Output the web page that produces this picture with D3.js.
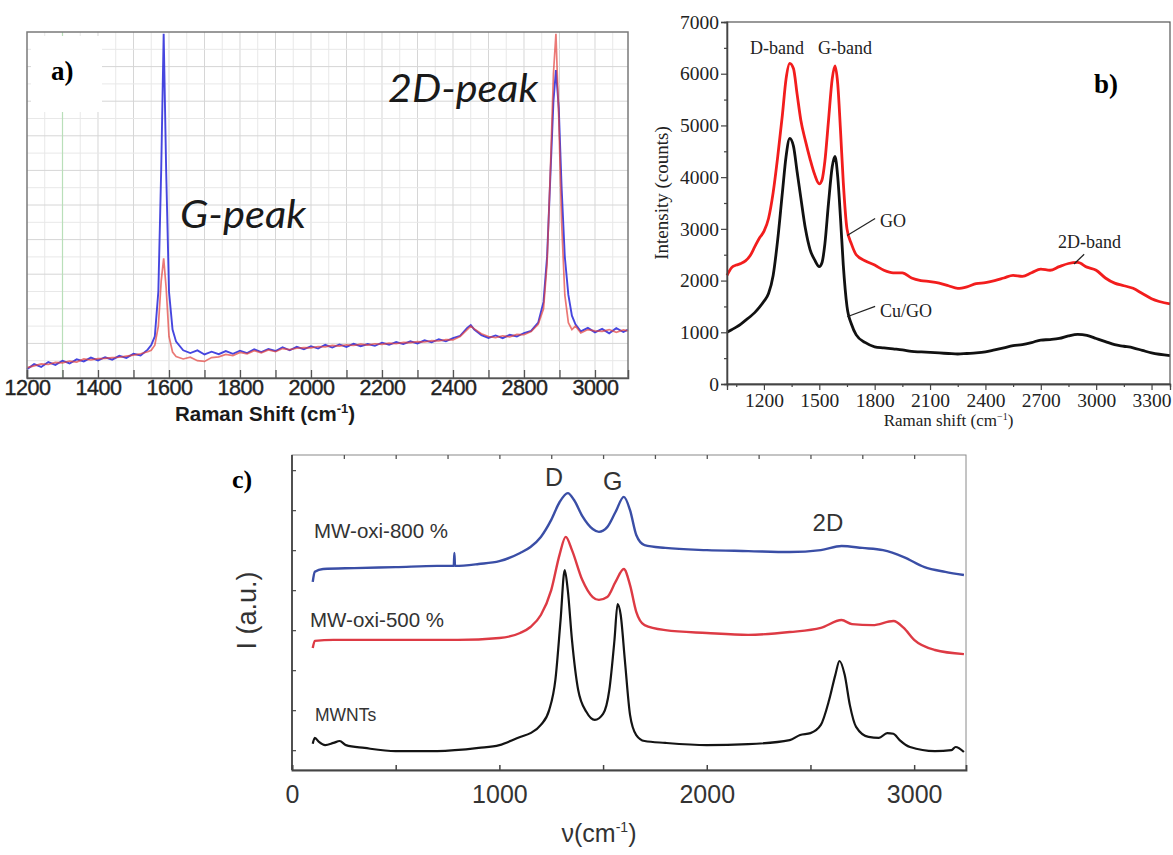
<!DOCTYPE html>
<html>
<head>
<meta charset="utf-8">
<script src="https://cdn.jsdelivr.net/npm/d3@7"></script>
<style>
  body { margin: 0; background: #fff; }
  svg { display: block; }
</style>
</head>
<body>
<script>
// ---------- panel a) graphene, two overlaid spectra (arbitrary units 0-100)
const aShift = [1200,1220,1240,1260,1280,1300,1320,1340,1360,1380,1400,1420,1440,1460,1480,1500,1520,1540,1550,1560,
  1570,1578,1585,1592,1600,1610,1620,1640,1660,1680,1700,1720,1740,1760,1780,1800,1820,1840,1860,1880,
  1900,1920,1940,1960,1980,2000,2020,2040,2060,2080,2100,2120,2140,2160,2180,2200,2220,2240,2260,2280,
  2300,2320,2340,2360,2380,2400,2420,2440,2450,2460,2480,2500,2520,2540,2560,2580,2600,2620,2640,2655,
  2665,2675,2683,2690,2698,2706,2715,2725,2735,2745,2760,2780,2800,2820,2840,2860,2880,2893];
const aBlue = [2.5,4.0,3.2,4.6,3.8,5.0,4.2,5.4,4.8,5.9,5.1,6.0,5.3,6.4,5.8,7.0,6.5,8.2,9.5,12,
  25,60,99.5,60,25,14,10.5,8.0,7.2,8.0,6.8,7.6,6.9,7.8,7.0,7.9,7.2,8.3,7.5,8.4,
  7.8,8.9,8.0,9.0,8.3,9.2,8.5,9.6,8.8,9.7,9.0,9.9,9.2,9.8,9.3,10.2,9.6,10.4,9.8,10.6,
  10.0,10.9,10.3,11.2,10.6,11.5,12.2,14.5,15.3,14.0,12.4,11.6,12.3,11.5,12.5,12.0,13.0,13.6,16.0,22,
  35,60,80,89,78,55,35,24,18,15.5,13.5,14.5,13.2,14.2,12.9,14.4,13.3,14.0];
const aRed = [3.0,3.5,4.1,3.9,4.5,4.4,4.9,4.6,5.5,5.2,5.6,5.7,5.9,6.0,6.3,6.6,7.0,7.6,8.0,9.5,
  15,28,34.6,26,12,7.5,6.2,5.5,6.0,5.0,4.8,5.9,6.1,6.8,6.5,7.4,7.0,7.9,7.3,8.1,
  7.6,8.5,8.2,8.6,8.8,8.7,9.1,9.0,9.4,9.2,9.6,9.4,9.8,9.5,9.9,9.7,10.1,9.9,10.3,10.2,
  10.5,10.4,10.8,10.7,11.1,11.0,12.0,14.0,15.0,14.2,12.8,12.0,11.7,12.2,11.9,12.6,12.5,13.4,15.5,20,
  33,62,88,99.5,75,45,24,16,14,15,13,14.0,13.6,13.5,14.0,13.2,13.9,13.6];
const aTickValues = [1200,1400,1600,1800,2000,2200,2400,2600,2800];
const aTickLabels = ["1200","1400","1600","1800","2000","2200","2400","2800","3000"];

// ---------- panel b) GO and Cu/GO (counts)
const bShift = [1000,1025,1050,1075,1100,1125,1150,1175,1200,1225,1250,1275,1300,1320,1340,1360,1380,1400,1425,1450,
  1475,1500,1515,1530,1550,1570,1585,1600,1615,1630,1650,1675,1700,1750,1800,1850,1900,1950,2000,2050,
  2100,2150,2200,2250,2300,2350,2400,2450,2500,2550,2600,2650,2700,2750,2800,2850,2900,2950,3000,3050,
  3100,3150,3200,3250,3300,3400];
const bGO = [2100,2250,2300,2330,2380,2480,2650,2820,2950,3200,3700,4400,5200,5900,6200,6100,5600,5100,4700,4350,
  4050,3870,3950,4300,5100,5900,6150,5800,4900,3900,3000,2700,2500,2380,2300,2200,2150,2150,2050,2000,
  1980,1950,1900,1850,1880,1940,1960,2000,2050,2100,2080,2150,2220,2200,2270,2330,2350,2260,2200,2050,
  1950,1900,1850,1750,1650,1550];
const bCuGO = [1000,1050,1100,1160,1230,1300,1380,1480,1600,1750,2100,2800,3700,4400,4750,4600,4100,3600,3000,2600,
  2400,2270,2350,2700,3500,4200,4400,4000,3200,2300,1500,1150,950,800,720,700,680,660,630,620,
  610,600,590,580,590,600,620,660,700,740,760,800,850,860,880,930,960,940,880,820,
  760,730,700,650,600,550];
const bXTicks = [1200,1500,1800,2100,2400,2700,3000,3300];
const bYTicks = [0,1000,2000,3000,4000,5000,6000,7000];

// ---------- panel c) MWNTs and oxidised samples (stacked, a.u.)
const c800Shift = [100,110,150,300,500,700,780,783,786,900,1000,1100,1150,1200,1250,1290,1330,1360,1400,
  1450,1480,1520,1560,1600,1630,1660,1700,1800,2000,2200,2400,2550,2650,2750,2850,2950,3050,3150,3240];
const c800 = [59.7,62.9,63.8,64.1,64.4,64.8,64.8,68.9,64.8,65.4,66.3,68.9,70.8,74,79.4,85,87.9,85.7,80.6,
  76.5,75.6,77.1,81.9,86.7,82.5,74.6,71.4,70.5,69.8,69.5,69.2,69.8,71.1,70.5,69.8,67.6,64.4,62.9,61.9];
const c500Shift = [100,110,200,500,800,1000,1100,1150,1200,1250,1290,1320,1350,1400,1450,1480,1520,1560,1600,1630,
  1660,1700,1800,2000,2200,2400,2550,2650,2700,2800,2900,2950,3000,3100,3240];
const c500 = [38.7,41,41.3,41.3,41.3,41.9,43.5,45.4,49.2,57.1,68.3,74,69.8,60.3,54.9,54,54.9,59.7,63.8,58.7,
  50.2,46,44.4,43.5,42.9,43.8,45.1,47.6,46.3,46,47.3,45.1,41.3,38.1,36.8];
const cMwShift = [100,110,130,160,200,230,260,350,500,700,900,1000,1100,1150,1200,1240,1270,1295,1315,1330,
  1350,1380,1420,1460,1500,1530,1555,1570,1585,1605,1630,1660,1700,1800,2000,2200,2400,2450,2500,2550,
  2590,2620,2640,2665,2690,2720,2780,2830,2870,2900,2930,2980,3100,3180,3200,3240];
const cMw = [8.3,10.2,8.9,7.9,8.6,9.2,7.9,7,6,6,7,7.9,10.5,11.7,14.3,19,28.6,47.6,63.5,57,
  41.3,25.4,18.4,15.9,17.8,25.4,41.3,52.7,49.2,34.9,17.5,11.1,9.2,8.6,7.9,8.2,9.5,11.1,11.7,14.3,
  22.2,30.2,34.6,30.2,20.6,13.7,10.5,10.2,11.7,11.5,9.5,7.3,6,6.3,7.3,5.7];
const cXTicks = [0,1000,2000,3000];
const cYTicks = [6.3,19,31.7,44.4,57.1,69.8,82.5,95.2];

const svg = d3.select("body").append("svg").attr("width", 1173).attr("height", 855);

const zip = (xs, ys) => xs.map((x, i) => [x, ys[i]]);

// ================= panel a =================
{
  const W = 601, H = 346;
  const g = svg.append("g").attr("transform", "translate(27,32)");
  const x = d3.scaleLinear().domain([1200, 2893]).range([0, W]);
  const y = d3.scaleLinear().domain([0, 100]).range([H, 0]);

  // grid
  g.append("g").selectAll("line").data(d3.range(1250, 2893, 50)).join("line")
    .attr("x1", d => x(d)).attr("x2", d => x(d)).attr("y1", 0).attr("y2", H)
    .attr("stroke", d => d % 100 === 0 ? "#d6d6d6" : "#e8e8e8");
  g.append("g").selectAll("line").data(d3.range(5, 100, 5)).join("line")
    .attr("y1", d => y(d)).attr("y2", d => y(d)).attr("x1", 0).attr("x2", W)
    .attr("stroke", d => d % 10 === 0 ? "#d6d6d6" : "#e8e8e8");
  g.append("line").attr("x1", x(1300)).attr("x2", x(1300)).attr("y1", 0).attr("y2", H)
    .attr("stroke", "#b9dfb9").attr("stroke-width", 1.2);

  const line = d3.line().x(d => x(d[0])).y(d => y(d[1]));
  g.append("path").datum(zip(aShift, aBlue)).attr("d", line)
    .attr("fill", "none").attr("stroke", "#2626d9").attr("stroke-width", 1.9).attr("opacity", 0.85);
  g.append("path").datum(zip(aShift, aRed)).attr("d", line)
    .attr("fill", "none").attr("stroke", "#e2403c").attr("stroke-width", 1.7).attr("opacity", 0.7);

  // frame
  g.append("rect").attr("width", W).attr("height", H)
    .attr("fill", "none").attr("stroke", "#7a7a7a").attr("stroke-width", 1.5);

  // ticks inward, labels below
  g.append("g").attr("transform", `translate(0,${H})`)
    .call(d3.axisBottom(x).tickValues(d3.range(1300, 2893, 200)).tickSize(-8).tickFormat(""))
    .call(a => a.select(".domain").remove())
    .call(a => a.selectAll("line").attr("stroke", "#555").attr("stroke-width", 1.3));
  g.append("g").attr("transform", `translate(0,${H})`)
    .call(d3.axisBottom(x).tickValues(aTickValues).tickSize(-8).tickPadding(2)
      .tickFormat((d, i) => aTickLabels[i]))
    .call(a => a.select(".domain").attr("stroke", "#555").attr("stroke-width", 1.5))
    .call(a => a.selectAll("line").attr("stroke", "#555").attr("stroke-width", 1.3))
    .call(a => a.selectAll("text").attr("font-family", "'Liberation Sans', Arial, sans-serif")
      .attr("font-size", 21.5).attr("fill", "#222").attr("stroke", "#222").attr("stroke-width", 0.4)
      .attr("letter-spacing", -0.5));

  const t = g.append("text").attr("x", 238).attr("y", 389)
    .attr("text-anchor", "middle").attr("font-family", "'Liberation Sans', Arial, sans-serif")
    .attr("font-weight", "bold").attr("font-size", 20.5).attr("fill", "#1a1a1a");
  t.append("tspan").text("Raman Shift (cm");
  t.append("tspan").attr("dy", -8).attr("font-size", 13).text("-1");
  t.append("tspan").attr("dy", 8).text(")");

  // white label box
  g.append("rect").attr("x", 4).attr("y", 4).attr("width", 71).attr("height", 76).attr("fill", "#fff");
  g.append("text").attr("x", 24).attr("y", 48)
    .attr("font-family", "'Liberation Serif', 'Times New Roman', serif")
    .attr("font-weight", "bold").attr("font-size", 27).text("a)");

  g.append("text").attr("x", 153).attr("y", 196)
    .attr("font-family", "Lato, 'Open Sans', sans-serif").attr("font-style", "italic")
    .attr("font-size", 38).attr("fill", "#1a1a1a")
    .attr("textLength", 126).attr("lengthAdjust", "spacingAndGlyphs").text("G-peak");
  g.append("text").attr("x", 361).attr("y", 70)
    .attr("font-family", "Lato, 'Open Sans', sans-serif").attr("font-style", "italic")
    .attr("font-size", 38).attr("fill", "#1a1a1a")
    .attr("textLength", 150).attr("lengthAdjust", "spacingAndGlyphs").text("2D-peak");
}

// ================= panel b =================
{
  const W = 443, H = 362;
  const serif = "'Liberation Serif', 'Times New Roman', serif";
  const g = svg.append("g").attr("transform", "translate(727,22)");
  const x = d3.scaleLinear().domain([1000, 3400]).range([0, W]);
  const y = d3.scaleLinear().domain([0, 7000]).range([H, 0]);

  const line = d3.line().x(d => x(d[0])).y(d => y(d[1])).curve(d3.curveMonotoneX);
  g.append("path").datum(zip(bShift, bGO)).attr("d", line)
    .attr("fill", "none").attr("stroke", "#f21d1d").attr("stroke-width", 2.8);
  g.append("path").datum(zip(bShift, bCuGO)).attr("d", line)
    .attr("fill", "none").attr("stroke", "#111").attr("stroke-width", 2.8);

  g.append("rect").attr("width", W).attr("height", H)
    .attr("fill", "none").attr("stroke", "#555").attr("stroke-width", 1.2);

  const styleAxis = a => {
    a.select(".domain").attr("stroke", "#444").attr("stroke-width", 1.3);
    a.selectAll("line").attr("stroke", "#444").attr("stroke-width", 1.2);
    a.selectAll("text").attr("font-family", serif).attr("font-size", 19.5).attr("fill", "#222");
  };
  // minor ticks
  g.append("g").attr("transform", `translate(0,${H})`)
    .call(d3.axisBottom(x).tickValues(d3.range(1050, 3400, 300)).tickSize(3).tickFormat(""))
    .call(styleAxis);
  g.append("g")
    .call(d3.axisLeft(y).tickValues(d3.range(500, 7000, 1000)).tickSize(3).tickFormat(""))
    .call(styleAxis);
  g.append("g").attr("transform", `translate(0,${H})`)
    .call(d3.axisBottom(x).tickValues(bXTicks).tickSize(6).tickPadding(3).tickFormat(d3.format("d")))
    .call(styleAxis);
  g.append("g")
    .call(d3.axisLeft(y).tickValues(bYTicks).tickSize(6).tickPadding(2).tickFormat(d3.format("d")))
    .call(styleAxis);

  const t = g.append("text").attr("x", W / 2).attr("y", H + 42).attr("text-anchor", "middle")
    .attr("font-family", serif).attr("font-size", 17).attr("fill", "#222");
  t.append("tspan").text("Raman shift (cm");
  t.append("tspan").attr("dy", -6).attr("font-size", 10).text("−1");
  t.append("tspan").attr("dy", 6).text(")");

  g.append("text").attr("transform", `translate(-59,${H / 2 - 10}) rotate(-90)`)
    .attr("text-anchor", "middle").attr("font-family", serif).attr("font-size", 19).attr("fill", "#222")
    .text("Intensity (counts)");

  const ann = (tx, ty, s) => g.append("text").attr("x", tx).attr("y", ty)
    .attr("font-family", serif).attr("font-size", 18).attr("fill", "#222").text(s);
  ann(x(1125), 32, "D-band");
  ann(x(1493), 32, "G-band");
  ann(153, 205, "GO");
  ann(153, 295, "Cu/GO");
  ann(331, 226, "2D-band");
  g.append("text").attr("x", 367).attr("y", 71).attr("font-family", serif)
    .attr("font-weight", "bold").attr("font-size", 27).text("b)");

  const lead = (x1, y1, x2, y2) => g.append("line").attr("x1", x1).attr("y1", y1)
    .attr("x2", x2).attr("y2", y2).attr("stroke", "#222").attr("stroke-width", 1.2);
  lead(x(1640) + 2, y(2870), x(1640) + 30, y(3200));
  lead(x(1640) + 2, y(1300), x(1640) + 30, y(1500));
  lead(x(2880), y(2320), x(2935), y(2510));
}

// ================= panel c =================
{
  const W = 674, H = 315;
  const sans = "'Liberation Sans', Arial, sans-serif";
  const g = svg.append("g").attr("transform", "translate(292,455)");
  const x = d3.scaleLinear().domain([0, 3250]).range([0, W]);
  const y = d3.scaleLinear().domain([0, 100]).range([H, 0]);

  const line = d3.line().x(d => x(d[0])).y(d => y(d[1])).curve(d3.curveMonotoneX);
  g.append("path").datum(zip(c800Shift, c800)).attr("d", line)
    .attr("fill", "none").attr("stroke", "#3a4ea6").attr("stroke-width", 2.4);
  g.append("path").datum(zip(c500Shift, c500)).attr("d", line)
    .attr("fill", "none").attr("stroke", "#dd3a44").attr("stroke-width", 2.4);
  g.append("path").datum(zip(cMwShift, cMw)).attr("d", line)
    .attr("fill", "none").attr("stroke", "#141414").attr("stroke-width", 2.2);

  g.append("rect").attr("width", W).attr("height", H)
    .attr("fill", "none").attr("stroke", "#8a8a8a").attr("stroke-width", 1);

  const grey = a => {
    a.select(".domain").remove();
    a.selectAll("line").attr("stroke", "#555").attr("stroke-width", 1.3);
  };
  g.append("g").call(d3.axisTop(x).tickValues(d3.range(250, 3250, 250)).tickSize(-4).tickFormat("")).call(grey);
  g.append("g").call(d3.axisLeft(y).tickValues(cYTicks).tickSize(-4).tickFormat("")).call(grey);
  g.append("line").attr("x1", 0).attr("x2", 0).attr("y1", 0).attr("y2", H).attr("stroke", "#444").attr("stroke-width", 1.8);
  g.append("g").attr("transform", `translate(0,${H})`)
    .call(d3.axisBottom(x).tickValues(d3.range(0, 3250, 500)).tickSize(-5).tickPadding(12)
      .tickFormat(d => cXTicks.includes(d) ? d : ""))
    .call(a => a.select(".domain").attr("stroke", "#444").attr("stroke-width", 1.8))
    .call(a => a.selectAll("line").attr("stroke", "#444").attr("stroke-width", 1.5))
    .call(a => a.selectAll("text").attr("font-family", sans).attr("font-size", 25).attr("fill", "#333")
      .attr("dy", "0.85em"));

  const txt = (tx, ty, s, size) => g.append("text").attr("x", tx).attr("y", ty)
    .attr("font-family", sans).attr("font-size", size).attr("fill", "#333").text(s);
  txt(x(1220), 31, "D", 25);
  txt(x(1500), 35, "G", 25);
  txt(x(2510), 76, "2D", 24);
  txt(22, 83, "MW-oxi-800 %", 20.5);
  txt(18, 172, "MW-oxi-500 %", 20.5);
  txt(23, 266, "MWNTs", 17.5);

  const xt = g.append("text").attr("x", 307).attr("y", H + 72).attr("text-anchor", "middle")
    .attr("font-family", sans).attr("font-size", 25).attr("fill", "#333");
  xt.append("tspan").text("ν(cm");
  xt.append("tspan").attr("dy", -10).attr("font-size", 14).text("-1");
  xt.append("tspan").attr("dy", 10).text(")");

  g.append("text").attr("transform", `translate(-36,${H / 2 - 2}) rotate(-90)`)
    .attr("text-anchor", "middle").attr("font-family", sans).attr("font-size", 27)
    .attr("fill", "#333").text("I (a.u.)");

  g.append("text").attr("x", -60).attr("y", 33)
    .attr("font-family", "'Liberation Serif', 'Times New Roman', serif")
    .attr("font-weight", "bold").attr("font-size", 26).text("c)");
}
</script>
</body>
</html>
